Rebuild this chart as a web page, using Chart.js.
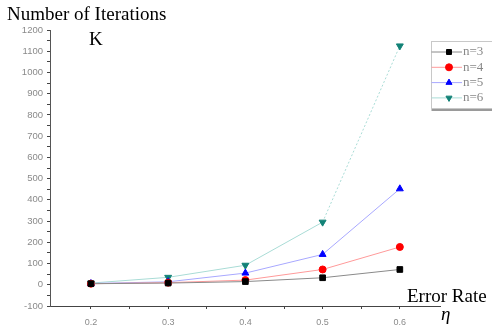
<!DOCTYPE html>
<html>
<head>
<meta charset="utf-8">
<script src="https://cdn.jsdelivr.net/npm/chart.js@4"></script>
<style>
  body { margin: 0; background: #fff; }
  #wrap { position: relative; width: 492px; height: 329px; }
</style>
</head>
<body>
<div id="wrap"><canvas id="iterChart" width="492" height="329"></canvas></div>
<script>
// Error rates on the x axis
var errorRates = [0.2, 0.3, 0.4, 0.5, 0.6];

// Number of iterations K for each n
var iterN3 = [5, 8, 15, 33, 72];
var iterN4 = [5, 10, 22, 72, 178];
var iterN5 = [6, 14, 55, 143, 452];
var iterN6 = [8, 35, 92, 295, 1125];

var seriesNames = ["n=3", "n=4", "n=5", "n=6"];
var yTickValues = [-100, 0, 100, 200, 300, 400, 500, 600, 700, 800, 900, 1000, 1100, 1200];
var xTickValues = [0.2, 0.3, 0.4, 0.5, 0.6];

function toPoints(values) {
    return values.map(function(v, i) { return { x: errorRates[i], y: v }; });
}

// add half-step minor ticks between the labelled ones
function withMinor(list) {
    var out = [];
    list.forEach(function(v, i) {
        out.push({ value: v, major: true });
        if (i < list.length - 1) out.push({ value: (v + list[i + 1]) / 2, major: false });
    });
    return out;
}

var styles = [
    { marker: "#000000", line: "#8a8a8a", shape: "rect", rot: 0 },
    { marker: "#ff0000", line: "#ff9a9a", shape: "circle", rot: 0 },
    { marker: "#0000ff", line: "#a8a8ff", shape: "triangle", rot: 0 },
    { marker: "#128277", line: "#a9dcd6", shape: "triangle", rot: 180 }
];
var allSeries = [iterN3, iterN4, iterN5, iterN6];

var datasets = allSeries.map(function(vals, i) {
    var s = styles[i];
    var ds = {
        label: seriesNames[i],
        data: toPoints(vals),
        borderColor: s.line,
        backgroundColor: s.marker,
        borderWidth: 1,
        pointStyle: s.shape,
        rotation: s.rot,
        pointRadius: s.shape === "circle" ? 3.5 : 4,
        pointBorderColor: s.marker,
        pointBackgroundColor: s.marker,
        tension: 0
    };
    if (i === 3) {
        ds.segment = {
            borderDash: function(ctx) { return ctx.p0DataIndex === 3 ? [2, 2] : undefined; }
        };
    }
    return ds;
});

// Texts and the boxed legend are painted on top of the canvas
var decorPlugin = {
    id: "decor",
    afterDraw: function(chart) {
        var ctx = chart.ctx;
        ctx.save();
        ctx.fillStyle = "#000";
        ctx.textBaseline = "alphabetic";
        ctx.textAlign = "left";
        ctx.font = '19px "Liberation Serif"';
        ctx.fillText("Number of Iterations", 7, 20);
        ctx.fillText("K", 89, 45);
        ctx.fillText("Error Rate", 407, 302);
        ctx.font = 'italic 19px "Liberation Serif"';
        ctx.fillText("\u03b7", 441, 320);

        // legend box
        var bx = 431.5, by = 41.5, bw = 70, bh = 67;
        ctx.fillStyle = "#fff";
        ctx.fillRect(bx, by, bw, bh);
        ctx.strokeStyle = "#c8c8c8";
        ctx.lineWidth = 1;
        ctx.strokeRect(bx, by, bw, bh);
        ctx.fillStyle = "#9a9a9a";
        ctx.fillRect(bx, by + bh + 0.5, bw, 2);

        ctx.font = '13px "Liberation Serif"';
        ctx.textBaseline = "middle";
        chart.data.datasets.forEach(function(ds, i) {
            var yy = 52 + i * 15.3;
            ctx.strokeStyle = ds.borderColor;
            ctx.lineWidth = 1;
            ctx.beginPath();
            ctx.moveTo(bx, yy);
            ctx.lineTo(462, yy);
            ctx.stroke();
            ctx.fillStyle = ds.pointBackgroundColor;
            ctx.strokeStyle = ds.pointBorderColor;
            Chart.helpers.drawPoint(ctx, {
                pointStyle: ds.pointStyle,
                rotation: ds.rotation,
                radius: 3.5,
                borderWidth: 1
            }, 449, yy);
            ctx.fillStyle = "#888";
            ctx.fillText(ds.label, 463, yy);
        });
        ctx.restore();
    }
};

var ctx = document.getElementById("iterChart").getContext("2d");
new Chart(ctx, {
    type: "line",
    data: { datasets: datasets },
    plugins: [decorPlugin],
    options: {
        responsive: false,
        animation: false,
        layout: { padding: { left: 0, right: 52, top: 30, bottom: 0 } },
        plugins: { legend: { display: false }, tooltip: { enabled: false } },
        scales: {
            x: {
                type: "linear",
                min: 0.147,
                max: 0.652,
                afterBuildTicks: function(scale) { scale.ticks = withMinor(xTickValues); },
                afterFit: function(scale) { scale.height = 23; },
                grid: { drawOnChartArea: false, drawTicks: true, tickLength: 3, tickColor: "#444" },
                border: { display: true, color: "#444", width: 1 },
                ticks: {
                    autoSkip: false,
                    maxRotation: 0,
                    padding: 8,
                    color: "#8a8a8a",
                    font: { family: "Liberation Sans", size: 9 },
                    callback: function(v, i, ticks) {
                        return ticks[i].major ? v.toFixed(1) : "";
                    }
                }
            },
            y: {
                min: -100,
                max: 1200,
                afterBuildTicks: function(scale) { scale.ticks = withMinor(yTickValues); },
                afterFit: function(scale) { scale.width = 50; },
                grid: { drawOnChartArea: false, drawTicks: true, tickLength: 3, tickColor: "#444" },
                border: { display: true, color: "#555", width: 1 },
                ticks: {
                    autoSkip: false,
                    padding: 4,
                    color: "#8a8a8a",
                    font: { family: "Liberation Sans", size: 9.5 },
                    callback: function(v, i, ticks) {
                        return ticks[i].major ? String(v) : "";
                    }
                }
            }
        }
    }
});
</script>
</body>
</html>
